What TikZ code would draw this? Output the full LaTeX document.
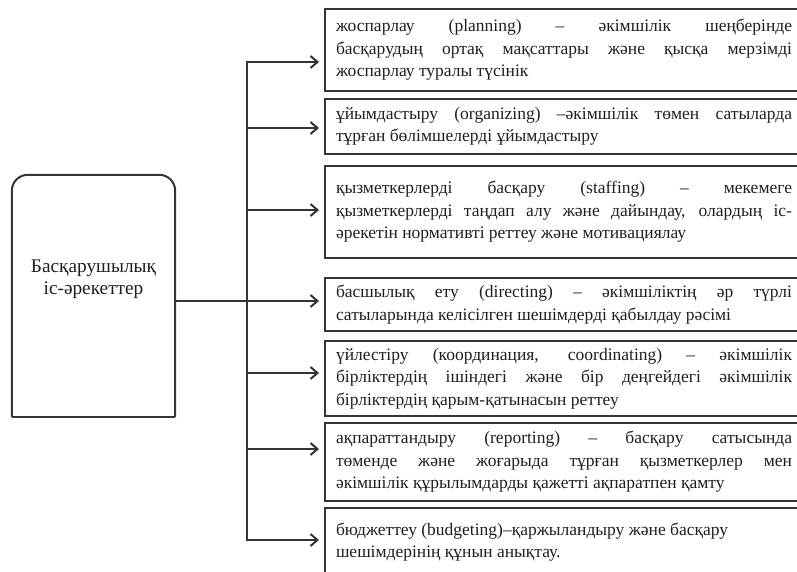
\documentclass[tikz,border=0pt]{standalone}
\usepackage{fontspec}
\setmainfont{Liberation Serif}
\usepackage{xcolor}
\usepackage{tikz}
\usetikzlibrary{arrows.meta}
\usetikzlibrary{positioning}
\definecolor{Linie}{HTML}{353535}
\tikzset{
  Kasten/.style={draw=Linie, line width=2pt, anchor=north west, inner xsep=11pt, inner ysep=0pt,
    text width=456pt, align=justify, text=black!88,
    font={\fontsize{17.5}{22.5}\selectfont\hyphenpenalty=10000\exhyphenpenalty=10000}}, % für Textkästen
  Pfeil/.style={draw=Linie, line width=2pt, shorten >=5pt,
    -{Straight Barb[length=7pt,width=12pt,line width=2pt]}}, % für Pfeile
  Linie/.style={draw=Linie, line width=2pt}
}

\begin{document}
\begin{tikzpicture}[x=1pt, y=-1pt, line join=miter]
\clip (0,0) rectangle (797,572);

%Hauptkasten
\node (Haupt) [minimum width=163pt, minimum height=242pt, inner sep=0pt] at (93.5,296) {};
\node (HauptText) [align=center, text=black!88, font={\fontsize{19.3}{22.5}\selectfont}]
  at ([yshift=17pt]Haupt.center) {Басқарушылық\\іс-әрекеттер};
\draw[Linie, rounded corners=16pt] (Haupt.south west) -- (Haupt.north west) -- (Haupt.north east) -- (Haupt.south east);
\draw[Linie] (Haupt.south west) -- (Haupt.south east);

%Textkästen
\node (K1) [Kasten, minimum height=82pt] at (324,8)
  {жоспарлау (planning) – әкімшілік шеңберінде\linebreak басқарудың ортақ мақсаттары және қысқа мерзімді\linebreak жоспарлау туралы түсінік};
\node (K2) [Kasten, minimum height=55pt] at (324,98)
  {ұйымдастыру (organizing) –әкімшілік төмен сатыларда\linebreak тұрған бөлімшелерді ұйымдастыру};
\node (K3) [Kasten, minimum height=92pt] at (324,165)
  {қызметкерлерді басқару (staffing) – мекемеге\linebreak қызметкерлерді таңдап алу және дайындау, олардың іс-\linebreak әрекетін нормативті реттеу және мотивациялау};
\node (K4) [Kasten, minimum height=53pt] at (324,277)
  {басшылық ету (directing) – әкімшіліктің әр түрлі\linebreak сатыларында келісілген шешімдерді қабылдау рәсімі};
\node (K5) [Kasten, minimum height=75pt] at (324,340)
  {үйлестіру (координация, coordinating) – әкімшілік\linebreak бірліктердің ішіндегі және бір деңгейдегі әкімшілік\linebreak бірліктердің қарым-қатынасын реттеу};
\node (K6) [Kasten, minimum height=78pt] at (324,422)
  {ақпараттандыру (reporting) – басқару сатысында\linebreak төменде және жоғарыда тұрған қызметкерлер мен\linebreak әкімшілік құрылымдарды қажетті ақпаратпен қамту};
\node (K7) [Kasten, minimum height=68pt] at (324,507)
  {бюджеттеу (budgeting)–қаржыландыру және басқару\\ шешімдерінің құнын анықтау.};

%Verzweigungspunkte
\coordinate (T1) at (247,62);
\coordinate (T2) at (247,128);
\coordinate (T3) at (247,210);
\coordinate (T4) at (247,301);
\coordinate (T5) at (247,373);
\coordinate (T6) at (247,449);
\coordinate (T7) at (247,540);

%Leiterbahnen
\draw[Pfeil, {Straight Barb[length=7pt,width=12pt,line width=2pt]}-{Straight Barb[length=7pt,width=12pt,line width=2pt]}, shorten <=5pt]
  (K1.west |- T1) -- (T1) -- (T7) -- (K7.west |- T7);
\draw[Linie] (Haupt.east |- T4) -- (T4);

%Pfeile
\foreach \k in {2,...,6}
  \draw[Pfeil] (T\k) -- (K\k.west |- T\k);

\end{tikzpicture}
\end{document}
